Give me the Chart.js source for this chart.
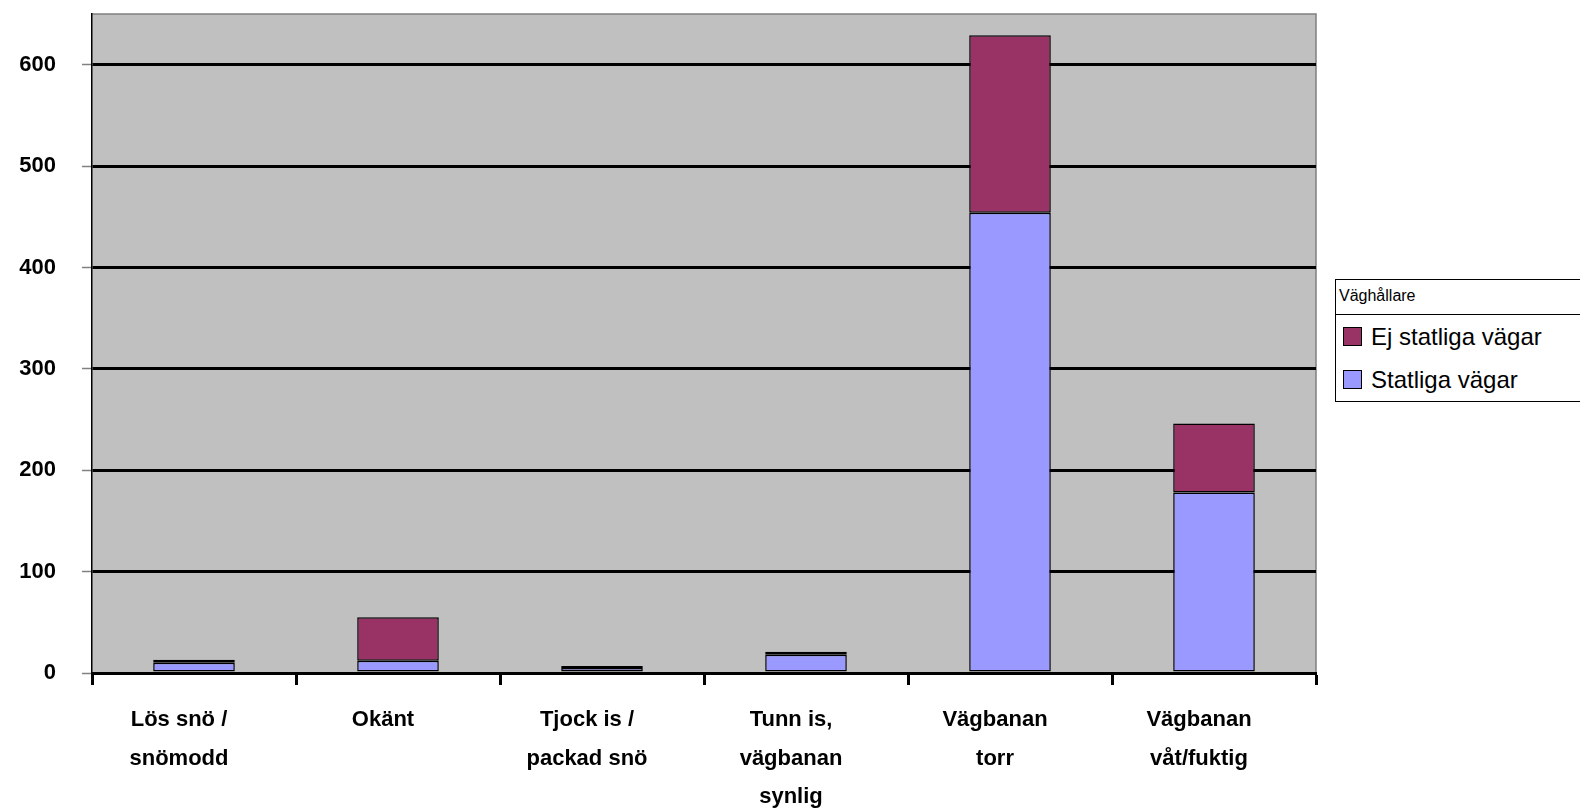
<!DOCTYPE html>
<html>
<head>
<meta charset="utf-8">
<script src="https://cdn.jsdelivr.net/npm/chart.js@4.4.1/dist/chart.umd.min.js"></script>
<style>
  html, body { margin: 0; padding: 0; background: #fff; }
  #wrap { position: relative; width: 1580px; height: 809px; }
  #legend {
    position: absolute; left: 1335px; top: 279px; width: 260px; height: 123px;
    border: 1px solid #000; box-sizing: border-box; background: #fff;
    font-family: Arial, "Liberation Sans", sans-serif; color: #000;
  }
  #legend .title { height: 34px; line-height: 32px; font-size: 16px; padding-left: 3px; border-bottom: 1px solid #000; }
  #legend .item { height: 43px; display: flex; align-items: center; font-size: 24px; padding-left: 7px; }
  #legend .sw { width: 17px; height: 17px; border: 1px solid #000; margin-right: 9px; flex: none; }
</style>
</head>
<body>
<div id="wrap">
  <canvas id="roadChart" width="1580" height="809"></canvas>
  <div id="legend"></div>
</div>
<script>
const categories = [
  ['Lös snö /', 'snömodd'],
  ['Okänt'],
  ['Tjock is /', 'packad snö'],
  ['Tunn is,', 'vägbanan', 'synlig'],
  ['Vägbanan', 'torr'],
  ['Vägbanan', 'våt/fuktig']
];
const statligaVagar = [10, 12, 5, 18, 454, 178];
const ejStatligaVagar = [3, 43, 2, 3, 175, 68];
const legendTitle = 'Väghållare';

const fontFamily = 'Arial, "Liberation Sans", sans-serif';

const plotBackground = {
  id: 'plotBackground',
  beforeDraw(chart) {
    const { ctx, chartArea: a } = chart;
    ctx.save();
    ctx.fillStyle = '#c0c0c0';
    ctx.fillRect(a.left, a.top, a.right - a.left, a.bottom - a.top);
    ctx.strokeStyle = '#808080';
    ctx.lineWidth = 1.5;
    ctx.beginPath();
    ctx.moveTo(a.left, a.top);
    ctx.lineTo(a.right, a.top);
    ctx.lineTo(a.right, a.bottom);
    ctx.stroke();
    ctx.restore();
  }
};

const canvasElementForBarChart = document.getElementById('roadChart');

let configBarChart = {
  type: 'bar',
  data: {
    labels: categories,
    datasets: [
      {
        label: 'Statliga vägar',
        data: statligaVagar,
        backgroundColor: '#9999ff',
        borderColor: '#000',
        borderWidth: 1.5,
        borderSkipped: false,
        barPercentage: 0.4,
        categoryPercentage: 1.0,
      },
      {
        label: 'Ej statliga vägar',
        data: ejStatligaVagar,
        backgroundColor: '#993366',
        borderColor: '#000',
        borderWidth: 1.5,
        borderSkipped: false,
        barPercentage: 0.4,
        categoryPercentage: 1.0,
      },
    ],
  },
  options: {
    responsive: false,
    animation: false,
    layout: { padding: { top: 14, right: 264, left: 0, bottom: 0 } },
    plugins: {
      legend: { display: false },
      tooltip: { enabled: false },
    },
    scales: {
      x: {
        stacked: true,
        afterFit(scale) {
          scale.height = 136;
          scale.paddingLeft = 0; scale.paddingRight = 0;
        },
        grid: {
          offset: true,
          drawOnChartArea: false,
          drawTicks: true,
          tickLength: 12,
          tickColor: '#000',
          tickWidth: 3,
        },
        border: { color: '#000', width: 3 },
        ticks: {
          color: '#000',
          maxRotation: 0,
          autoSkip: false,
          labelOffset: -15,
          padding: 16,
          font: { family: fontFamily, size: 22, weight: 'bold', lineHeight: 1.75 },
        },
      },
      y: {
        stacked: true,
        min: 0,
        max: 650,
        afterFit(scale) {
          scale.width = 92;
          scale.paddingTop = 0; scale.paddingBottom = 0;
        },
        afterBuildTicks(scale) { scale.ticks = scale.ticks.filter(t => t.value % 100 === 0); },
        grid: {
          color: '#000',
          lineWidth: 3,
          tickLength: 10,
          tickColor: '#808080',
          tickWidth: 1.5,
        },
        border: { color: '#000', width: 1.5 },
        ticks: {
          stepSize: 100,
          color: '#000',
          padding: 26,
          font: { family: fontFamily, size: 22, weight: 'bold' },
        },
      },
    },
  },
  plugins: [plotBackground],
};
const barChart = new Chart(canvasElementForBarChart, configBarChart);

// legend, top item is the stacked top series
const legendEl = document.getElementById('legend');
let html = '<div class="title">' + legendTitle + '</div>';
barChart.data.datasets.slice().reverse().forEach(ds => {
  html += '<div class="item"><span class="sw" style="background:' + ds.backgroundColor + '"></span>' + ds.label + '</div>';
});
legendEl.innerHTML = html;
</script>
</body>
</html>
